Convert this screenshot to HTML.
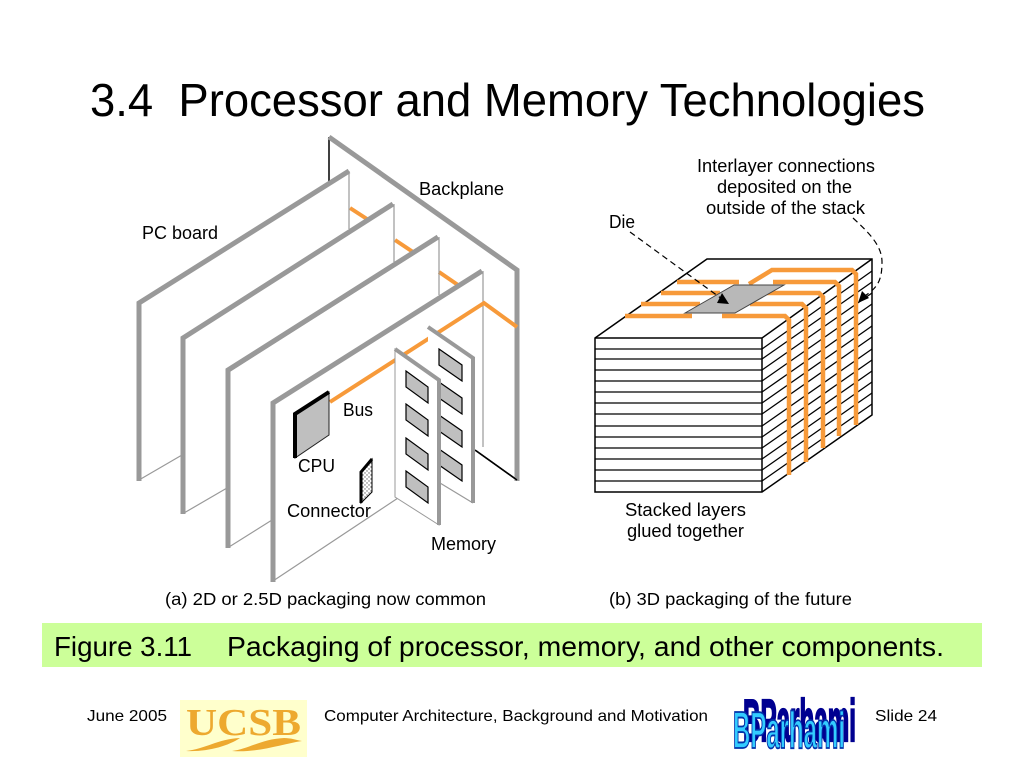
<!DOCTYPE html>
<html><head><meta charset="utf-8"><style>
html,body{margin:0;padding:0;background:#fff;width:1024px;height:768px;overflow:hidden}
svg{display:block}
text{font-family:"Liberation Sans",sans-serif;fill:#000}
.l{font-size:18px}
.c{font-size:17.5px}
.f{font-size:16px}
</style></head><body>
<svg width="1024" height="768" viewBox="0 0 1024 768" xmlns="http://www.w3.org/2000/svg">
<defs>
<pattern id="dots" width="4" height="4" patternUnits="userSpaceOnUse"><rect width="4" height="4" fill="#fff"/><circle cx="1" cy="1" r=".7" fill="#666"/><circle cx="3" cy="3" r=".7" fill="#666"/></pattern>
</defs>
<text x="90" y="116" font-size="46" textLength="835" lengthAdjust="spacingAndGlyphs" xml:space="preserve">3.4  Processor and Memory Technologies</text>

<!-- Backplane -->
<path d="M329 137V182" stroke="#000" stroke-width="1.5" fill="none"/>
<path d="M475 450L517 480" stroke="#000" stroke-width="1.5" fill="none"/>
<path d="M329 137L517 270V481" stroke="#999" stroke-width="5" fill="none"/>

<!-- Orange behind boards -->
<g stroke="#f79a3a" stroke-width="4" fill="none">
<path d="M350 208L367 219"/><path d="M395 240L413 252"/><path d="M439 272L458 285"/>
</g>

<!-- Boards -->
<g fill="#fff">
<path d="M139 303L349 171V230L182 336V455L139 480Z" stroke="none"/>
<path d="M349 171V229M139 480L182 455" stroke="#999" stroke-width="1.2"/>
<path d="M139 481V303L349 171" stroke="#999" stroke-width="5" fill="none"/>

<path d="M183 338L393 204V262L227 368V488L183 513Z" stroke="none"/>
<path d="M394 204V262M184 513L227 488" stroke="#999" stroke-width="1.2"/>
<path d="M183 514V338L393 204" stroke="#999" stroke-width="5" fill="none"/>

<path d="M228 370L438 237V295L272 402V520L229 547Z" stroke="none"/>
<path d="M439 237V295M229 547L272 520" stroke="#999" stroke-width="1.2"/>
<path d="M229 372L438 239" stroke="#999" stroke-width="1" fill="none"/>
<path d="M228 548V370L438 237" stroke="#999" stroke-width="5" fill="none"/>

<path d="M273 403L482 271V447L398 498L273 581Z" stroke="none"/>
<path d="M483 271V447M273 581L398 498" stroke="#999" stroke-width="1.2"/>
<path d="M273 582V403L482 271" stroke="#999" stroke-width="5" fill="none"/>
</g>

<!-- Bus over front board -->
<path d="M330 402L484 303L517 327" stroke="#f79a3a" stroke-width="4" fill="none"/>
<path d="M475 450L517 480" stroke="#000" stroke-width="1.5" fill="none"/>

<!-- CPU -->
<path d="M295 414L329 392V435L295 458Z" fill="#bfbfbf" stroke="#222" stroke-width="1"/>
<path d="M295 458V414L329 392" fill="none" stroke="#000" stroke-width="4"/>
<!-- Connector -->
<path d="M361 472L372 459V492L361 503Z" fill="url(#dots)" stroke="#000" stroke-width="1"/>
<path d="M361 503V472L372 459" fill="none" stroke="#000" stroke-width="3"/>

<!-- Back memory -->
<path d="M428 327L473 358V503L428 472Z" fill="#fff" stroke="none"/>
<path d="M440 483L473 503" stroke="#999" stroke-width="1.2"/>
<g fill="#bfbfbf" stroke="#000" stroke-width="1.2">
<path d="M439 349L462 365V381L439 365Z"/>
<path d="M439 382L462 398V414L439 398Z"/>
<path d="M439 415L462 431V447L439 431Z"/>
<path d="M439 449L462 465V481L439 465Z"/>
</g>
<path d="M428 327L473 358V503" fill="none" stroke="#999" stroke-width="4"/>
<!-- Front memory -->
<path d="M395 349L439 380V525L395 497Z" fill="#fff" stroke="#999" stroke-width="1"/>
<g fill="#bfbfbf" stroke="#000" stroke-width="1.2">
<path d="M406 371L428 387V403L406 387Z"/>
<path d="M406 404L428 420V436L406 420Z"/>
<path d="M406 438L428 454V470L406 454Z"/>
<path d="M406 471L428 487V503L406 487Z"/>
</g>
<path d="M395 349L439 380V525" fill="none" stroke="#999" stroke-width="4"/>

<!-- Left labels -->
<text class="l" x="419" y="195" textLength="85" lengthAdjust="spacingAndGlyphs">Backplane</text>
<text class="l" x="142" y="239" textLength="76" lengthAdjust="spacingAndGlyphs">PC board</text>
<text class="l" x="343" y="416" textLength="30" lengthAdjust="spacingAndGlyphs">Bus</text>
<text class="l" x="298" y="472" textLength="37" lengthAdjust="spacingAndGlyphs">CPU</text>
<text class="l" x="287" y="517" textLength="84" lengthAdjust="spacingAndGlyphs">Connector</text>
<text class="l" x="431" y="550" textLength="65" lengthAdjust="spacingAndGlyphs">Memory</text>

<!-- Right cube -->
<path d="M595 338L707 259H872V415L762 492H595Z" fill="#fff" stroke="#000" stroke-width="1.5"/>
<path d="M595 338H762L872 259M762 338V492" fill="none" stroke="#000" stroke-width="1.5"/>
<g stroke="#000" stroke-width="1.3" fill="none">
<path d="M595 349H762L872 271"/>
<path d="M595 359H762L872 282"/>
<path d="M595 370H762L872 293"/>
<path d="M595 381H762L872 304"/>
<path d="M595 392H762L872 315"/>
<path d="M595 403H762L872 326"/>
<path d="M595 414H762L872 337"/>
<path d="M595 426H762L872 349"/>
<path d="M595 437H762L872 360"/>
<path d="M595 448H762L872 371"/>
<path d="M595 459H762L872 382"/>
<path d="M595 470H762L872 393"/>
<path d="M595 481H762L872 404"/>
</g>
<g stroke="#f79a3a" stroke-width="4.5" fill="none">
<path d="M625 316H692"/><path d="M722 316H785L789 320V475"/>
<path d="M641 304H700"/><path d="M750 304H802L806 308V462"/>
<path d="M661 293H720"/><path d="M763 293H819L823 297V448"/>
<path d="M677 282H739"/><path d="M773 282H835L839 286V436"/>
<path d="M749 284L772 270H852L856 274V425"/>
</g>
<path d="M685 313L734 285H784L735 313Z" fill="#b8b8b8" stroke="#444" stroke-width="1"/>
<path d="M630 232L722 299" fill="none" stroke="#000" stroke-width="1.2" stroke-dasharray="6 4"/>
<path d="M729 304L717 303L722 293Z" fill="#000"/>
<path d="M853 218C868 232 882 245 882 262C882 280 878 288 863 297" fill="none" stroke="#000" stroke-width="1.2" stroke-dasharray="6 4"/>
<path d="M858 303L862 291L869 298Z" fill="#000"/>

<!-- Right labels -->
<text class="l" x="697" y="172" textLength="178" lengthAdjust="spacingAndGlyphs">Interlayer connections</text>
<text class="l" x="717" y="193" textLength="135" lengthAdjust="spacingAndGlyphs">deposited on the</text>
<text class="l" x="706" y="214" textLength="159" lengthAdjust="spacingAndGlyphs">outside of the stack</text>
<text class="l" x="609" y="228" textLength="26" lengthAdjust="spacingAndGlyphs">Die</text>
<text class="l" x="625" y="516" textLength="121" lengthAdjust="spacingAndGlyphs">Stacked layers</text>
<text class="l" x="627" y="537" textLength="117" lengthAdjust="spacingAndGlyphs">glued together</text>

<text class="c" x="165" y="605" textLength="321" lengthAdjust="spacingAndGlyphs">(a) 2D or 2.5D packaging now common</text>
<text class="c" x="609" y="605" textLength="243" lengthAdjust="spacingAndGlyphs">(b) 3D packaging of the future</text>

<!-- Caption band -->
<rect x="42" y="623" width="940" height="44" fill="#ccff99"/>
<text x="54" y="656" font-size="28" textLength="138" lengthAdjust="spacingAndGlyphs">Figure 3.11</text>
<text x="227" y="656" font-size="28" textLength="717" lengthAdjust="spacingAndGlyphs">Packaging of processor, memory, and other components.</text>

<!-- Footer -->
<text class="f" x="87" y="721" textLength="80" lengthAdjust="spacingAndGlyphs">June 2005</text>
<rect x="180" y="700" width="127" height="57" fill="#ffffcc"/>
<text x="186" y="735" font-size="38" textLength="115" lengthAdjust="spacingAndGlyphs" style="font-family:'Liberation Serif',serif;font-weight:bold;fill:#eda92f">UCSB</text>
<path d="M186 751C205 749 218 739 240 738C228 746 208 752 186 751Z" fill="#eda92f"/>
<path d="M232 751C248 749 262 739 284 738C291 738 296 740 302 741C282 744 258 753 232 751Z" fill="#eda92f"/>
<text class="f" x="324" y="721" textLength="384" lengthAdjust="spacingAndGlyphs">Computer Architecture, Background and Motivation</text>
<text class="f" x="875" y="721" textLength="62" lengthAdjust="spacingAndGlyphs">Slide 24</text>

<!-- WordArt -->
<g style="font-weight:bold">
<text transform="translate(743,741) scale(1,2.3)" font-size="26" textLength="113" lengthAdjust="spacingAndGlyphs" style="fill:#000090;stroke:#000090;stroke-width:1">BParhami</text>
<text transform="translate(733,748) scale(1,2)" font-size="26" textLength="112" lengthAdjust="spacingAndGlyphs" style="fill:#33ccff;stroke:#0033aa;stroke-width:.9">BParhami</text>
</g>
</svg>
</body></html>
